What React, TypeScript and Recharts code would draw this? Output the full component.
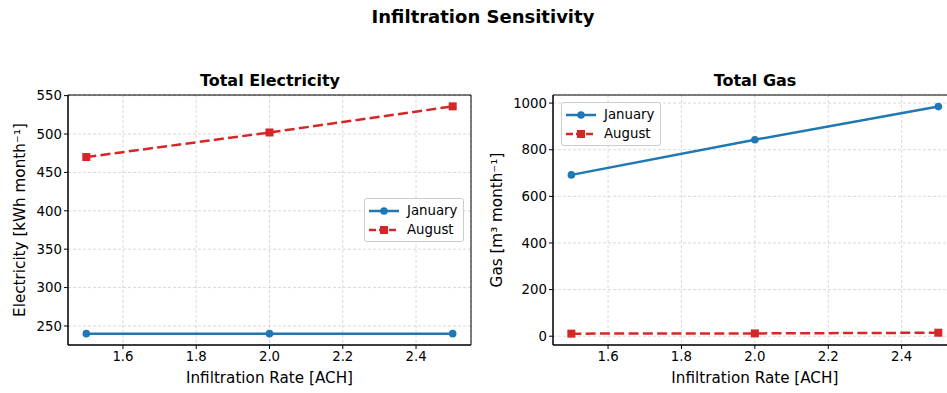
import { LineChart, Line, XAxis, YAxis, CartesianGrid, Legend, ReferenceArea } from "recharts";

// values
const rates = [1.5, 2.0, 2.5];
const elecJanuary = [240, 240, 240];
const elecAugust = [470, 502, 536];
const gasJanuary = [692, 843, 985];
const gasAugust = [11, 12, 15];

const xTicks = [1.6, 1.8, 2.0, 2.2, 2.4];
const elecTicks = [250, 300, 350, 400, 450, 500, 550];
const gasTicks = [0, 200, 400, 600, 800, 1000];

const BLUE = "#1f77b4";
const RED = "#d62728";
const FONT = "'DejaVu Sans', sans-serif";
const X_DOMAIN: [number, number] = [1.45, 2.55];

const seriesInfo = [
  { name: "January", color: BLUE, dash: undefined as string | undefined, marker: "circle" },
  { name: "August", color: RED, dash: "10 4.3", marker: "square" },
];

function Marker({ cx, cy, color, kind }: { cx: number; cy: number; color: string; kind: string }) {
  if (kind === "square") {
    return <rect x={cx - 4} y={cy - 4} width={8} height={8} fill={color} />;
  }
  return <circle cx={cx} cy={cy} r={3.8} fill={color} />;
}

function LegendBox() {
  return (
    <div
      style={{
        width: 100,
        height: 44,
        boxSizing: "border-box",
        background: "rgba(255,255,255,0.85)",
        border: "1px solid #cccccc",
        borderRadius: 3,
        padding: "2px 0 0 4px",
        fontFamily: FONT,
        fontSize: 13.3,
        color: "#000",
      }}
    >
      {seriesInfo.map((s) => (
        <div key={s.name} style={{ display: "flex", alignItems: "center", height: 19 }}>
          <svg width={30} height={10}>
            <line x1={0} x2={30} y1={5} y2={5} stroke={s.color} strokeWidth={2.5} strokeDasharray={s.dash ? "7 3" : undefined} />
            <Marker cx={15} cy={5} color={s.color} kind={s.marker} />
          </svg>
          <span style={{ marginLeft: 8 }}>{s.name}</span>
        </div>
      ))}
    </div>
  );
}

type PanelProps = {
  january: number[];
  august: number[];
  yDomain: [number, number];
  yTicks: number[];
  yLabel: string;
  yWidth: number;
  yLabelOffset: number;
  rightMargin: number;
  legendPos: { left: number; top: number };
};

function Panel(p: PanelProps) {
  const data = rates.map((r, i) => ({ rate: r, January: p.january[i], August: p.august[i] }));
  const tick = { fontSize: 13.3, fill: "#000", fontFamily: FONT };
  return (
    <LineChart width={480} height={393} data={data} margin={{ top: 95, right: p.rightMargin, bottom: 0, left: 0 }}>
      <CartesianGrid stroke="#cfcfcf" strokeWidth={0.8} strokeDasharray="3 2" />
      <XAxis
        dataKey="rate"
        type="number"
        domain={X_DOMAIN}
        ticks={xTicks}
        allowDataOverflow
        tickFormatter={(v: number) => v.toFixed(1)}
        height={48}
        tickSize={4}
        tickMargin={3}
        stroke="#000"
        tick={tick}
        label={{ value: "Infiltration Rate [ACH]", position: "insideBottom", offset: 10, fill: "#000", fontSize: 15.2, fontFamily: FONT }}
      />
      <YAxis
        type="number"
        domain={p.yDomain}
        ticks={p.yTicks}
        allowDataOverflow
        width={p.yWidth}
        tickSize={4}
        tickMargin={2}
        stroke="#000"
        tick={tick}
        label={{
          value: p.yLabel,
          angle: -90,
          position: "insideLeft",
          offset: p.yLabelOffset,
          fill: "#000",
          fontSize: 15.2,
          fontFamily: FONT,
          style: { textAnchor: "middle" },
        }}
      />
      <ReferenceArea x1={X_DOMAIN[0]} x2={X_DOMAIN[1]} y1={p.yDomain[0]} y2={p.yDomain[1]} fill="none" stroke="#000" strokeWidth={1} />
      {seriesInfo.map((s) => (
        <Line
          key={s.name}
          type="linear"
          dataKey={s.name}
          stroke={s.color}
          strokeWidth={2.5}
          strokeDasharray={s.dash}
          isAnimationActive={false}
          dot={(d: any) => <Marker key={`${s.name}-${d.index}`} cx={d.cx} cy={d.cy} color={s.color} kind={s.marker} />}
          activeDot={false}
        />
      ))}
      <Legend
        layout="horizontal"
        verticalAlign="middle"
        align="center"
        content={() => <LegendBox />}
        wrapperStyle={{ left: p.legendPos.left, top: p.legendPos.top, width: "auto" }}
      />
    </LineChart>
  );
}

const titleStyle = {
  position: "absolute" as const,
  width: 300,
  textAlign: "center" as const,
  fontFamily: FONT,
  fontWeight: "bold" as const,
  fontSize: 16,
  lineHeight: "20px",
  color: "#000",
};

export default function App() {
  return (
    <div style={{ position: "absolute", left: 0, top: 0, width: 947, height: 393, overflow: "hidden", background: "#fff" }}>
      <div
        style={{
          position: "absolute",
          left: 283,
          top: 6,
          width: 400,
          textAlign: "center",
          fontFamily: FONT,
          fontWeight: "bold",
          fontSize: 18,
          lineHeight: "22px",
          color: "#000",
        }}
      >
        Infiltration Sensitivity
      </div>
      <div style={{ ...titleStyle, left: 120, top: 71 }}>Total Electricity</div>
      <div style={{ ...titleStyle, left: 605, top: 71 }}>Total Gas</div>
      <div style={{ position: "absolute", left: 0, top: 0 }}>
        <Panel
          january={elecJanuary}
          august={elecAugust}
          yDomain={[225.2, 550.8]}
          yTicks={elecTicks}
          yLabel="Electricity [kWh month⁻¹]"
          yWidth={68}
          yLabelOffset={20}
          rightMargin={9}
          legendPos={{ left: 364, top: 198 }}
        />
      </div>
      <div style={{ position: "absolute", left: 480, top: 0 }}>
        <Panel
          january={gasJanuary}
          august={gasAugust}
          yDomain={[-37.7, 1034.7]}
          yTicks={gasTicks}
          yLabel="Gas [m³ month⁻¹]"
          yWidth={73}
          yLabelOffset={17}
          rightMargin={3.3}
          legendPos={{ left: 81, top: 102 }}
        />
      </div>
    </div>
  );
}
